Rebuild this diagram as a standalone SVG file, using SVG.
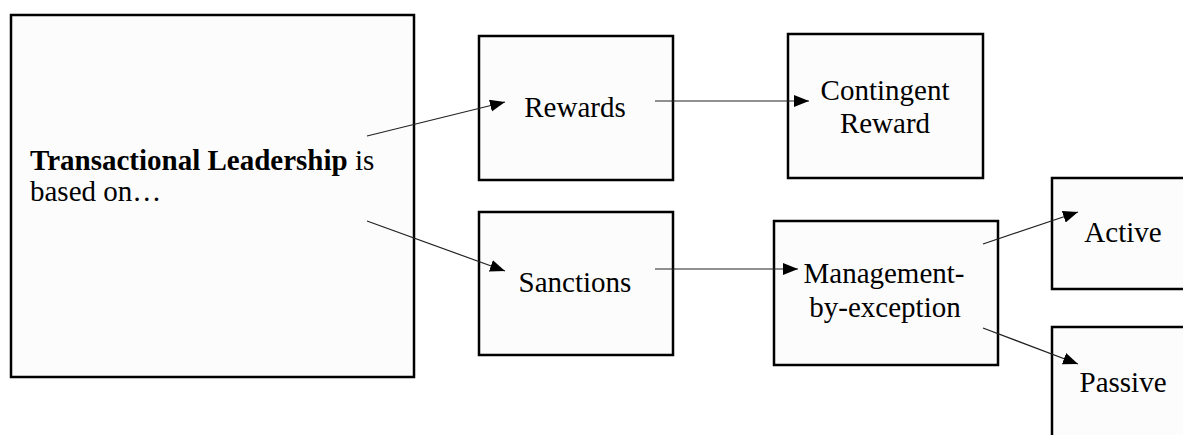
<svg xmlns="http://www.w3.org/2000/svg" width="1183" height="435" viewBox="0 0 1183 435">
  <defs>
    <marker id="arrow" markerUnits="userSpaceOnUse" markerWidth="16" markerHeight="13" refX="15" refY="6" orient="auto">
      <path d="M0,0 L15,6 L0,12 Z" fill="#000"/>
    </marker>
  </defs>
  <style>
    .box { fill: #fcfcfc; stroke: #000; stroke-width: 2.5; }
    .lbl { font-family: "Liberation Serif", "Times New Roman", serif; font-size: 29px; fill: #000; }
    .mid { text-anchor: middle; }
    .edge { stroke: #222; stroke-width: 1.2; fill: none; marker-end: url(#arrow); }
  </style>
  <rect width="1183" height="435" fill="#fff"/>

  <g id="node-transactional">
    <rect class="box" x="11" y="15" width="403" height="362"/>
    <text class="lbl" x="30" y="170"><tspan font-weight="bold">Transactional Leadership</tspan> is</text>
    <text class="lbl" x="30" y="201">based on…</text>
  </g>

  <g id="node-rewards">
    <rect class="box" x="479" y="36" width="194" height="144"/>
    <text class="lbl mid" x="575" y="117">Rewards</text>
  </g>

  <g id="node-contingent-reward">
    <rect class="box" x="788" y="34" width="195" height="144"/>
    <text class="lbl mid" x="885" y="100">Contingent</text>
    <text class="lbl mid" x="885" y="133">Reward</text>
  </g>

  <g id="node-sanctions">
    <rect class="box" x="479" y="212" width="194" height="143"/>
    <text class="lbl mid" x="575" y="292">Sanctions</text>
  </g>

  <g id="node-mbe">
    <rect class="box" x="774" y="221" width="224" height="144"/>
    <text class="lbl mid" x="884" y="283">Management-</text>
    <text class="lbl mid" x="885" y="317">by-exception</text>
  </g>

  <g id="node-active">
    <rect class="box" x="1052" y="178" width="150" height="111"/>
    <text class="lbl mid" x="1123" y="242">Active</text>
  </g>

  <g id="node-passive">
    <rect class="box" x="1052" y="327" width="150" height="130"/>
    <text class="lbl mid" x="1123" y="392">Passive</text>
  </g>

  <g id="connectors">
    <line class="edge" x1="367" y1="136" x2="505" y2="102"/>
    <line class="edge" x1="367" y1="221" x2="505" y2="271"/>
    <line class="edge" x1="655" y1="101" x2="809" y2="101"/>
    <line class="edge" x1="655" y1="269" x2="798" y2="269"/>
    <line class="edge" x1="983" y1="244" x2="1078" y2="212"/>
    <line class="edge" x1="983" y1="328" x2="1078" y2="364"/>
  </g>
</svg>
